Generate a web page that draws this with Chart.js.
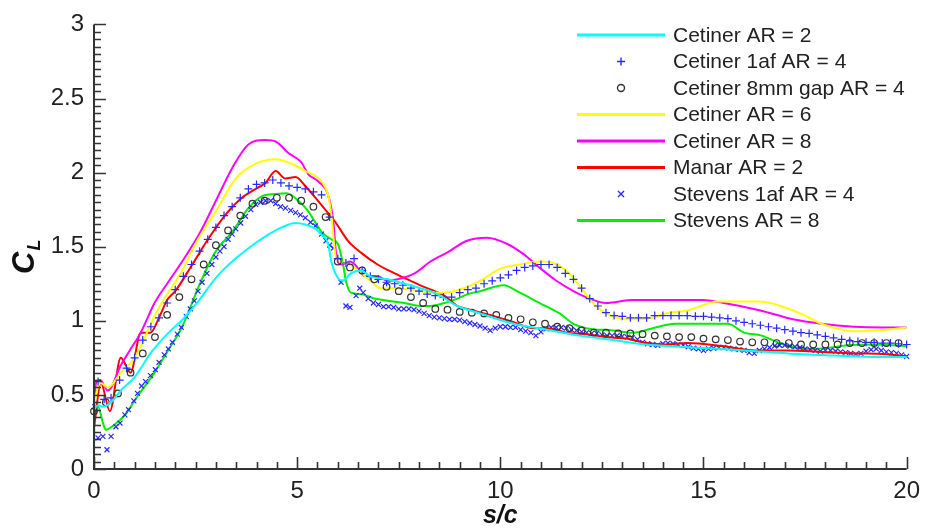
<!DOCTYPE html>
<html>
<head>
<meta charset="utf-8">
<script src="https://cdn.jsdelivr.net/npm/chart.js@4.4.1/dist/chart.umd.min.js"></script>
<style>
  html, body { margin: 0; padding: 0; background: #fff; }
  #wrap { width: 928px; height: 528px; position: relative; }
</style>
</head>
<body>
<div id="wrap"><canvas id="grafico" width="928" height="528"></canvas></div>
<script>
// ticks
const xTicks = [0, 5, 10, 15, 20];
const yTicks = [0, 0.5, 1, 1.5, 2, 2.5, 3];

// Cetiner AR = 2 (cyan)
const cet2X = [0, 0.1, 0.22, 0.42, 0.66, 1.0, 1.39, 1.8, 2.22, 2.59, 3.0, 3.4, 3.8, 4.22, 4.62, 4.96, 5.2, 5.45, 5.6, 5.76, 5.84, 6.0, 6.13, 6.32, 6.57, 6.8, 7.23, 7.64, 8.03, 8.45, 8.94, 9.5, 10.33, 11.14, 11.94, 12.77, 13.58, 14.4, 15.45, 16.3, 17.07, 17.9, 18.7, 19.4, 20];
const cet2Y = [0.40, 0.43, 0.42, 0.45, 0.53, 0.62, 0.78, 0.91, 1.02, 1.14, 1.29, 1.40, 1.49, 1.57, 1.63, 1.66, 1.65, 1.62, 1.58, 1.52, 1.40, 1.29, 1.27, 1.32, 1.34, 1.30, 1.28, 1.25, 1.22, 1.18, 1.10, 1.05, 0.98, 0.94, 0.90, 0.87, 0.84, 0.825, 0.81, 0.795, 0.78, 0.77, 0.76, 0.755, 0.755];

// Cetiner 1af AR = 4 (blue +)
const cet1afX = [0.1, 0.25, 0.42, 0.63, 0.8, 1.0, 1.2, 1.4, 1.6, 1.8, 2.0, 2.2, 2.4, 2.6, 2.8, 3.0, 3.2, 3.4, 3.6, 3.8, 4.0, 4.2, 4.4, 4.6, 4.8, 5.0, 5.2, 5.4, 5.6, 5.8, 6.0, 6.2, 6.4, 6.6, 6.8, 7.0, 7.2, 7.4, 7.6, 7.8, 8.0, 8.2, 8.4, 8.6, 8.8, 9.0, 9.2, 9.4, 9.6, 9.8, 10.0, 10.2, 10.4, 10.6, 10.8, 11.0, 11.2, 11.4, 11.6, 11.8, 12.0, 12.2, 12.4, 12.6, 12.8, 13.0, 13.2, 13.4, 13.6, 13.8, 14.0, 14.2, 14.4, 14.6, 14.8, 15.0, 15.2, 15.4, 15.6, 15.8, 16.0, 16.2, 16.4, 16.6, 16.8, 17.0, 17.2, 17.4, 17.6, 17.8, 18.0, 18.2, 18.4, 18.6, 18.8, 19.0, 19.2, 19.4, 19.6, 19.8, 20.0];
const cet1afY = [0.59, 0.47, 0.48, 0.60, 0.68, 0.75, 0.87, 0.96, 1.02, 1.12, 1.21, 1.30, 1.38, 1.47, 1.55, 1.63, 1.71, 1.77, 1.83, 1.89, 1.92, 1.93, 1.95, 1.93, 1.91, 1.90, 1.89, 1.87, 1.85, 1.70, 1.42, 1.39, 1.42, 1.34, 1.30, 1.28, 1.26, 1.25, 1.24, 1.22, 1.20, 1.18, 1.17, 1.16, 1.16, 1.19, 1.21, 1.22, 1.25, 1.27, 1.29, 1.31, 1.34, 1.36, 1.37, 1.38, 1.38, 1.36, 1.32, 1.28, 1.22, 1.15, 1.10, 1.055, 1.035, 1.03, 1.02, 1.02, 1.02, 1.035, 1.035, 1.035, 1.035, 1.035, 1.03, 1.03, 1.025, 1.02, 1.015, 1.00, 0.99, 0.98, 0.97, 0.96, 0.95, 0.94, 0.93, 0.92, 0.915, 0.905, 0.895, 0.885, 0.875, 0.865, 0.86, 0.855, 0.855, 0.85, 0.85, 0.845, 0.84];

// Cetiner 8mm gap AR = 4 (black o)
const cetGapX = [0.0, 0.29, 0.59, 0.9, 1.2, 1.5, 1.8, 2.1, 2.4, 2.7, 3.0, 3.3, 3.6, 3.9, 4.2, 4.5, 4.8, 5.1, 5.4, 5.7, 6.0, 6.3, 6.6, 6.9, 7.2, 7.5, 7.8, 8.1, 8.4, 8.7, 9.0, 9.3, 9.6, 9.9, 10.2, 10.5, 10.8, 11.1, 11.4, 11.7, 12.0, 12.3, 12.6, 12.9, 13.2, 13.5, 13.8, 14.1, 14.4, 14.7, 15.0, 15.3, 15.6, 15.9, 16.2, 16.5, 16.8, 17.1, 17.4, 17.7, 18.0, 18.3, 18.6, 18.9, 19.2, 19.5, 19.8];
const cetGapY = [0.39, 0.45, 0.51, 0.65, 0.78, 0.89, 1.04, 1.16, 1.28, 1.38, 1.51, 1.61, 1.71, 1.79, 1.81, 1.83, 1.83, 1.81, 1.77, 1.70, 1.40, 1.36, 1.34, 1.28, 1.23, 1.20, 1.16, 1.12, 1.08, 1.075, 1.06, 1.055, 1.05, 1.04, 1.02, 1.01, 0.99, 0.98, 0.96, 0.95, 0.935, 0.92, 0.92, 0.915, 0.915, 0.91, 0.90, 0.895, 0.89, 0.89, 0.88, 0.875, 0.87, 0.86, 0.855, 0.855, 0.85, 0.85, 0.84, 0.84, 0.84, 0.84, 0.85, 0.85, 0.85, 0.85, 0.85];

// Cetiner AR = 6 (yellow)
const cet6X = [0, 0.05, 0.17, 0.34, 0.66, 1.0, 1.32, 1.56, 2.17, 2.5, 3.0, 3.49, 3.98, 4.47, 4.86, 5.2, 5.6, 5.76, 5.84, 5.96, 6.2, 6.5, 6.8, 7.06, 7.47, 8.03, 8.6, 9.1, 9.5, 9.99, 10.48, 10.97, 11.3, 11.62, 11.94, 12.28, 12.6, 13.16, 13.75, 14.07, 14.6, 15.36, 16.4, 16.9, 17.5, 17.9, 18.7, 19.5, 20];
const cet6Y = [0.40, 0.50, 0.58, 0.55, 0.65, 0.75, 0.93, 1.07, 1.34, 1.52, 1.74, 1.96, 2.06, 2.09, 2.06, 2.01, 1.94, 1.85, 1.72, 1.42, 1.39, 1.34, 1.27, 1.22, 1.22, 1.20, 1.19, 1.22, 1.27, 1.35, 1.38, 1.40, 1.39, 1.34, 1.24, 1.12, 1.05, 1.01, 1.02, 1.05, 1.07, 1.13, 1.13, 1.10, 1.035, 0.98, 0.93, 0.94, 0.955];

// Cetiner AR = 8 (magenta)
const cet8X = [0, 0.05, 0.15, 0.34, 0.66, 0.88, 1.15, 1.49, 1.8, 2.17, 2.59, 3.0, 3.4, 3.8, 4.22, 4.47, 4.79, 5.1, 5.27, 5.52, 5.76, 5.89, 5.96, 6.08, 6.3, 6.42, 6.67, 6.98, 7.23, 7.47, 7.89, 8.28, 8.69, 9.18, 9.67, 10.16, 10.57, 10.96, 11.38, 11.8, 12.19, 12.6, 13.26, 13.9, 14.97, 15.5, 16.4, 17.2, 17.9, 18.7, 19.4, 20];
const cet8Y = [0.40, 0.58, 0.60, 0.53, 0.70, 0.80, 0.92, 1.12, 1.25, 1.40, 1.585, 1.81, 2.03, 2.19, 2.22, 2.21, 2.13, 2.07, 1.99, 1.94, 1.85, 1.67, 1.45, 1.38, 1.40, 1.38, 1.30, 1.30, 1.27, 1.28, 1.32, 1.40, 1.46, 1.54, 1.56, 1.52, 1.45, 1.36, 1.27, 1.20, 1.15, 1.12, 1.14, 1.14, 1.14, 1.12, 1.07, 1.01, 0.98, 0.96, 0.955, 0.955];

// Manar AR = 2 (red)
const manarX = [0, 0.17, 0.39, 0.66, 0.9, 1.15, 1.39, 1.6, 1.8, 2.0, 2.42, 2.83, 3.25, 3.64, 3.98, 4.22, 4.47, 4.71, 4.96, 5.2, 5.6, 5.93, 6.25, 6.57, 6.98, 7.4, 7.79, 8.2, 8.62, 8.94, 9.18, 9.74, 10.33, 10.82, 11.14, 11.62, 12.11, 12.6, 13.09, 13.58, 14.07, 14.6, 15.45, 16.26, 17.07, 17.9, 18.7, 19.5, 20];
const manarY = [0.28, 0.58, 0.39, 0.75, 0.65, 0.92, 0.92, 1.02, 1.14, 1.20, 1.38, 1.56, 1.72, 1.83, 1.89, 1.93, 2.01, 1.96, 1.97, 1.91, 1.78, 1.67, 1.54, 1.46, 1.38, 1.32, 1.27, 1.22, 1.17, 1.10, 1.08, 1.04, 0.99, 0.95, 0.95, 0.92, 0.91, 0.89, 0.88, 0.85, 0.84, 0.85, 0.83, 0.80, 0.80, 0.79, 0.78, 0.775, 0.76];

// Stevens 1af AR = 4 (blue x)
const stev1afX = [0.02, 0.1, 0.22, 0.32, 0.42, 0.54, 0.64, 0.76, 0.85, 0.98, 1.07, 1.17, 1.27, 1.39, 1.51, 1.6, 1.73, 1.83, 1.93, 2.05, 2.15, 2.27, 2.37, 2.47, 2.56, 2.66, 2.78, 2.9, 3.0, 3.1, 3.2, 3.3, 3.4, 3.49, 3.61, 3.73, 3.86, 3.98, 4.1, 4.22, 4.35, 4.47, 4.59, 4.71, 4.84, 4.96, 5.08, 5.2, 5.33, 5.45, 5.6, 5.71, 5.8, 5.89, 6.08, 6.2, 6.3, 6.45, 6.54,
  6.625, 6.75, 6.875, 7.0, 7.125, 7.25, 7.375, 7.5, 7.625, 7.75, 7.875, 8.0, 8.125, 8.25, 8.375, 8.5, 8.625, 8.75, 8.875, 9.0, 9.125, 9.25, 9.375, 9.5, 9.625, 9.75, 9.875, 10.0, 10.125, 10.25, 10.375, 10.5, 10.625, 10.75, 10.875, 11.0, 11.125, 11.25, 11.375, 11.5, 11.625, 11.75, 11.875, 12.0, 12.125, 12.25, 12.375, 12.5, 12.625, 12.75, 12.875, 13.0, 13.125, 13.25, 13.375, 13.5, 13.625, 13.75, 13.875, 14.0, 14.125, 14.25, 14.375, 14.5, 14.625, 14.75, 14.875, 15.0, 15.125, 15.25, 15.375, 15.5, 15.625, 15.75, 15.875, 16.0, 16.125, 16.25, 16.375, 16.5, 16.625, 16.75, 16.875, 17.0, 17.125, 17.25, 17.375, 17.5, 17.625, 17.75, 17.875, 18.0, 18.125, 18.25, 18.375, 18.5, 18.625, 18.75, 18.875, 19.0, 19.125, 19.25, 19.375, 19.5, 19.625, 19.75, 19.875, 20.0];
const stev1afY = [0.42, 0.21, 0.22, 0.13, 0.22, 0.285, 0.31, 0.365, 0.40, 0.46, 0.51, 0.56, 0.59, 0.63, 0.67, 0.72, 0.77, 0.81, 0.855, 0.91, 0.955, 1.03, 1.08, 1.135, 1.20, 1.26, 1.32, 1.38, 1.43, 1.47, 1.50, 1.55, 1.585, 1.62, 1.66, 1.705, 1.75, 1.785, 1.80, 1.81, 1.81, 1.79, 1.77, 1.76, 1.745, 1.73, 1.715, 1.695, 1.665, 1.64, 1.585, 1.54, 1.51, 1.49, 1.26, 1.10, 1.09, 1.17, 1.22,
  1.19, 1.15, 1.12, 1.11, 1.095, 1.095, 1.09, 1.08, 1.08, 1.08, 1.075, 1.065, 1.05, 1.035, 1.025, 1.02, 1.015, 1.01, 1.01, 1.005, 0.995, 0.985, 0.975, 0.965, 0.95, 0.935, 0.95, 0.96, 0.96, 0.955, 0.955, 0.94, 0.93, 0.92, 0.90, 0.925, 0.945, 0.955, 0.955, 0.955, 0.95, 0.94, 0.935, 0.925, 0.92, 0.915, 0.915, 0.905, 0.90, 0.90, 0.90, 0.895, 0.89, 0.885, 0.875, 0.855, 0.845, 0.84, 0.835, 0.845, 0.85, 0.845, 0.84, 0.835, 0.825, 0.815, 0.81, 0.80, 0.81, 0.815, 0.82, 0.82, 0.815, 0.81, 0.805, 0.80, 0.785, 0.78, 0.80, 0.81, 0.82, 0.83, 0.835, 0.835, 0.83, 0.825, 0.82, 0.81, 0.805, 0.80, 0.795, 0.80, 0.80, 0.795, 0.79, 0.785, 0.78, 0.775, 0.78, 0.795, 0.805, 0.81, 0.80, 0.79, 0.785, 0.78, 0.77, 0.76];

// Stevens AR = 8 (green)
const stev8X = [0, 0.01, 0.1, 0.22, 0.29, 0.51, 0.76, 1.07, 1.49, 1.8, 2.17, 2.59, 3.0, 3.4, 3.8, 4.13, 4.47, 4.74, 5.03, 5.27, 5.6, 5.84, 6.0, 6.13, 6.2, 6.32, 6.57, 6.9, 7.23, 7.64, 8.03, 8.28, 8.62, 8.94, 9.2, 9.5, 10.08, 10.48, 10.97, 11.46, 11.8, 12.11, 12.77, 13.26, 13.75, 14.3, 15.04, 15.6, 16.0, 16.43, 16.83, 17.24, 17.65, 18.14, 18.53, 19.2, 20];
const stev8Y = [0, 0.40, 0.42, 0.31, 0.265, 0.30, 0.365, 0.49, 0.65, 0.79, 0.96, 1.24, 1.47, 1.60, 1.76, 1.84, 1.855, 1.86, 1.81, 1.74, 1.60, 1.55, 1.52, 1.38, 1.27, 1.19, 1.18, 1.15, 1.135, 1.12, 1.10, 1.10, 1.12, 1.15, 1.18, 1.20, 1.24, 1.19, 1.12, 1.05, 0.98, 0.95, 0.935, 0.92, 0.95, 0.98, 0.98, 0.98, 0.92, 0.90, 0.855, 0.82, 0.81, 0.82, 0.835, 0.84, 0.83];

const pts = (xs, ys) => xs.map((x, i) => ({x: x, y: ys[i]}));
const FONT = "'Liberation Sans', Arial, sans-serif";
const AXIS = "#333";

function linha(label, xs, ys, cor){
  return {label, data: pts(xs, ys), showLine: true, borderColor: cor, backgroundColor: cor,
    borderWidth: 2, pointRadius: 0, cubicInterpolationMode: "monotone", clip: false};
}
function marcador(label, xs, ys, estilo, cor, raio){
  return {label, data: pts(xs, ys), showLine: false, pointStyle: estilo, pointRadius: raio,
    borderColor: cor, backgroundColor: "rgba(0,0,0,0)", pointBorderWidth: 1.2, clip: false};
}

const datasets = [
  linha("Cetiner AR = 2", cet2X, cet2Y, "#00ffff"),
  marcador("Cetiner 1af AR = 4", cet1afX, cet1afY, "cross", "#2828ff", 4),
  marcador("Cetiner 8mm gap AR = 4", cetGapX, cetGapY, "circle", "#333333", 3.3),
  linha("Cetiner AR = 6", cet6X, cet6Y, "#ffff00"),
  linha("Cetiner AR = 8", cet8X, cet8Y, "#ff00ff"),
  linha("Manar AR = 2", manarX, manarY, "#ff0000"),
  marcador("Stevens 1af AR = 4", stev1afX, stev1afY, "crossRot", "#2828ff", 3.5),
  linha("Stevens AR = 8", stev8X, stev8Y, "#00ee00")
];

// eixos com ticks para dentro, legenda e titulos
const extras = {
  id: "extras",
  afterDraw(chart){
    const {ctx, chartArea: a, scales: {x, y}} = chart;
    ctx.save();
    ctx.strokeStyle = AXIS;
    ctx.lineWidth = 2;
    ctx.beginPath();
    ctx.moveTo(a.left, y.getPixelForValue(3));
    ctx.lineTo(a.left, a.bottom);
    ctx.lineTo(a.right, a.bottom);
    ctx.stroke();
    ctx.lineWidth = 1.6;
    ctx.beginPath();
    for(let i = 0; i <= 40; i++){
      const px = Math.round(x.getPixelForValue(i * 0.5)) + 0.5;
      const len = i % 10 === 0 ? 12 : 7;
      ctx.moveTo(px, a.bottom);
      ctx.lineTo(px, a.bottom - len);
    }
    for(let i = 0; i <= 60; i++){
      const py = Math.round(y.getPixelForValue(i * 0.05)) + 0.5;
      const len = i % 10 === 0 ? 12 : 7;
      ctx.moveTo(a.left, py);
      ctx.lineTo(a.left + len, py);
    }
    ctx.stroke();

    // titulo eixo x
    ctx.fillStyle = "#111";
    ctx.font = "italic bold 25px " + FONT;
    ctx.textAlign = "center";
    ctx.textBaseline = "alphabetic";
    ctx.fillText("s/c", (a.left + a.right) / 2, 523);

    // titulo eixo y: C com subscrito L
    ctx.save();
    ctx.translate(34, 274);
    ctx.rotate(-Math.PI / 2);
    ctx.textAlign = "left";
    ctx.font = "italic bold 31px " + FONT;
    ctx.fillText("C", 0, 0);
    const w = ctx.measureText("C").width;
    ctx.font = "italic bold 18px " + FONT;
    ctx.fillText("L", w + 1, 6);
    ctx.restore();

    // legenda
    const lx = 577, len = 88, tx = 673, y0 = 35, dy = 26.5;
    ctx.font = "21px " + FONT;
    ctx.textAlign = "left";
    ctx.textBaseline = "middle";
    chart.data.datasets.forEach((ds, i) => {
      const cy = y0 + i * dy;
      if(ds.showLine){
        ctx.strokeStyle = ds.borderColor;
        ctx.lineWidth = 3;
        ctx.beginPath();
        ctx.moveTo(lx, cy);
        ctx.lineTo(lx + len, cy);
        ctx.stroke();
      }else{
        const cx = lx + len / 2;
        ctx.strokeStyle = ds.borderColor;
        ctx.lineWidth = 1.4;
        ctx.beginPath();
        if(ds.pointStyle === "cross"){
          ctx.moveTo(cx - 4, cy); ctx.lineTo(cx + 4, cy);
          ctx.moveTo(cx, cy - 4); ctx.lineTo(cx, cy + 4);
        }else if(ds.pointStyle === "crossRot"){
          ctx.moveTo(cx - 3, cy - 3); ctx.lineTo(cx + 3, cy + 3);
          ctx.moveTo(cx - 3, cy + 3); ctx.lineTo(cx + 3, cy - 3);
        }else{
          ctx.arc(cx, cy, 3.5, 0, Math.PI * 2);
        }
        ctx.stroke();
      }
      ctx.fillStyle = "#222";
      ctx.fillText(ds.label, tx, cy + 1);
    });
    ctx.restore();
  }
};

new Chart(document.getElementById("grafico"), {
  type: "scatter",
  data: {datasets},
  options: {
    responsive: false,
    animation: false,
    events: [],
    layout: {padding: {left: 0, top: 22, right: 15, bottom: 0}},
    plugins: {legend: {display: false}, tooltip: {enabled: false}},
    scales: {
      x: {
        type: "linear", min: 0, max: 20,
        afterBuildTicks: s => { s.ticks = xTicks.map(v => ({value: v})); },
        afterFit: s => { s.height = 59; },
        grid: {display: false, drawTicks: false},
        border: {display: false},
        ticks: {color: "#222", font: {family: FONT, size: 24}, padding: 8, maxRotation: 0,
          callback: v => String(v)}
      },
      y: {
        type: "linear", min: 0, max: 3,
        afterBuildTicks: s => { s.ticks = yTicks.map(v => ({value: v})); },
        afterFit: s => { s.width = 94; },
        grid: {display: false, drawTicks: false},
        border: {display: false},
        ticks: {color: "#222", font: {family: FONT, size: 24}, padding: 10,
          callback: v => String(v)}
      }
    }
  },
  plugins: [extras]
});
</script>
</body>
</html>
